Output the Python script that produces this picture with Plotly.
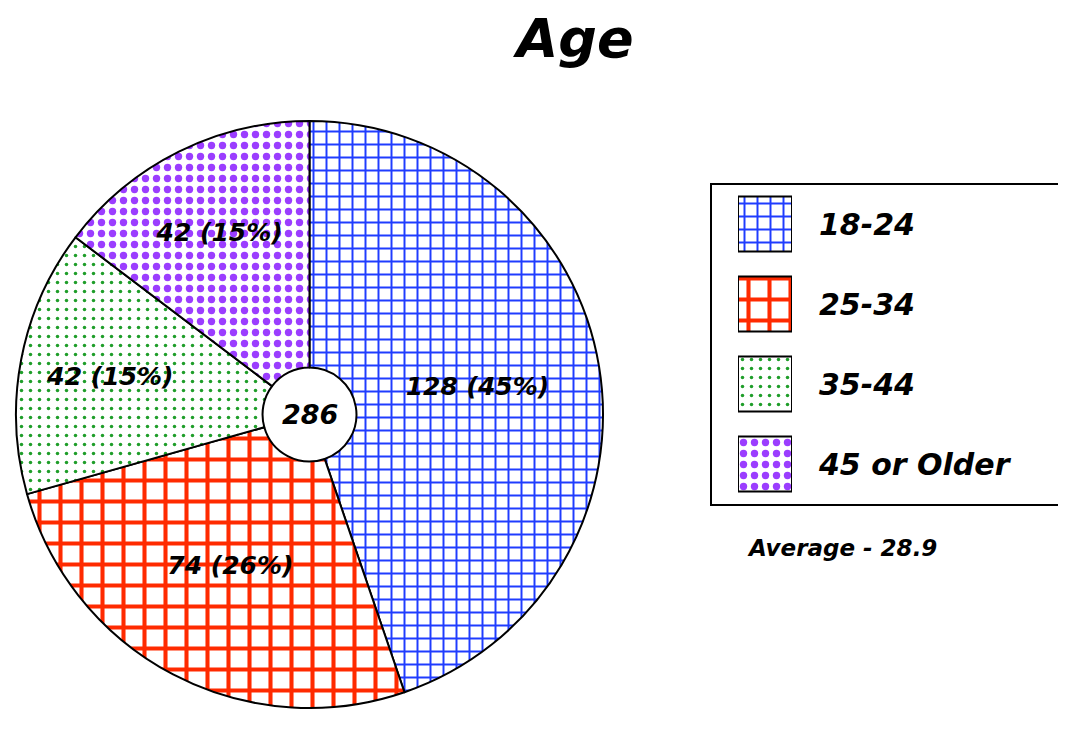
import plotly.graph_objects as go

# data
age_groups = ["18-24", "25-34", "35-44", "45 or Older"]
counts = [128, 74, 42, 42]
average_age = 28.9

colors = ["#1f3cff", "#ff2a00", "#1f9e2a", "#9b3dff"]
shapes = ["+", "+", ".", "."]
psizes = [13, 21, 9, 11]
solid = [0.28, 0.35, 0.12, 0.35]

FONT = "DejaVu Sans, Verdana, sans-serif"
W, H = 1066, 729
OFF = 8  # page body margin


def px_x(v):
    return (v - OFF) / W


def px_y(v):
    return 1 - (v - OFF) / H


# pie placement
pie_dom_x = [8 / W, 595 / W]
pie_dom_y = [1 - 700 / H, 1 - 113 / H]
cx = sum(pie_dom_x) / 2
cy = sum(pie_dom_y) / 2

fig = go.Figure()

fig.add_trace(go.Pie(
    labels=age_groups,
    values=counts,
    sort=False,
    direction="clockwise",
    rotation=0,
    hole=0.16,
    domain=dict(x=pie_dom_x, y=pie_dom_y),
    marker=dict(
        colors=["white"] * 4,
        line=dict(color="black", width=2),
        pattern=dict(shape=shapes, fgcolor=colors, bgcolor="white",
                     size=psizes, solidity=solid, fillmode="replace"),
    ),
    texttemplate="%{value} (%{percent:.0%})",
    textposition="inside",
    insidetextorientation="horizontal",
    textfont=dict(family=FONT, size=25, color="black", weight="bold", style="italic"),
    showlegend=False,
    hoverinfo="label+value+percent",
))

# legend swatches drawn as bars on a small hidden axis
fig.add_trace(go.Bar(
    x=[1] * len(age_groups),
    y=age_groups,
    orientation="h",
    width=0.69,
    xaxis="x2",
    yaxis="y2",
    marker=dict(
        color="white",
        line=dict(color="black", width=2),
        pattern=dict(shape=shapes, fgcolor=colors, bgcolor="white",
                     size=psizes, solidity=solid, fillmode="replace"),
    ),
    showlegend=False,
    hoverinfo="skip",
))

fig.update_layout(
    width=W, height=H,
    margin=dict(l=0, r=0, t=0, b=0),
    paper_bgcolor="white",
    plot_bgcolor="white",
    title=dict(text="Age", x=px_x(575), y=px_y(38), xanchor="center", yanchor="middle",
               font=dict(family=FONT, size=54, color="black", weight="bold", style="italic")),
    xaxis2=dict(domain=[px_x(738), px_x(792)], range=[0, 1], visible=False, fixedrange=True),
    yaxis2=dict(domain=[px_y(504), px_y(184)], anchor="x2", side="right",
                autorange="reversed", showgrid=False, zeroline=False, showline=False,
                ticks="", ticklabelstandoff=26,
                tickfont=dict(family=FONT, size=30, color="black", weight="bold", style="italic")),
    shapes=[dict(type="rect", xref="paper", yref="paper",
                 x0=px_x(711), x1=1.0, y0=px_y(505), y1=px_y(184),
                 line=dict(color="black", width=2))],
    annotations=[
        dict(text=str(sum(counts)), x=cx, y=cy, xref="paper", yref="paper",
             showarrow=False, xanchor="center", yanchor="middle",
             font=dict(family=FONT, size=27, color="black", weight="bold", style="italic")),
        dict(text="Average - " + str(average_age), x=px_x(745), y=px_y(548),
             xref="paper", yref="paper", showarrow=False, xanchor="left", yanchor="middle",
             font=dict(family=FONT, size=23, color="black", weight="bold", style="italic")),
    ],
)

fig.write_html("out.html")
